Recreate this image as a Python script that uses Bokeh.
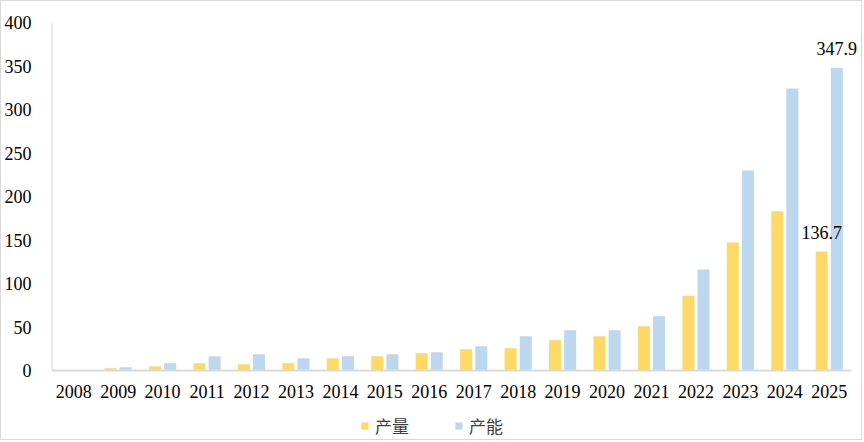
from bokeh.plotting import figure
from bokeh.models import ColumnDataSource, Legend, LegendItem, Range1d, FixedTicker, LabelSet
from bokeh.embed import file_html
from bokeh.resources import INLINE

years = [str(y) for y in range(2008, 2026)]
output = [0, 2.5, 5, 8.4, 7.2, 8.4, 14.1, 16.4, 19.9, 24.5, 25.6, 34.8, 39.4, 50.9, 86, 147, 183, 136.7]
capacity = [0, 3.8, 8.4, 16.4, 18.7, 14.1, 16.4, 18.7, 21, 27.9, 39.4, 46.3, 46.3, 62.4, 116, 230, 324, 347.9]
series_names = ["产量", "产能"]
y_ticks = [0, 50, 100, 150, 200, 250, 300, 350, 400]

n = len(years)
xc = [i + 0.5 for i in range(n)]
OFF = 0.17
src = ColumnDataSource(dict(year=years, xc=xc, zero=[0] * n,
                            xo=[x - OFF for x in xc], xp=[x + OFF for x in xc],
                            output=output, capacity=capacity))

PX_PER_UNIT = 348 / 400.0
p = figure(width=862, height=440, output_backend="svg", toolbar_location=None,
           x_axis_location=None,
           min_border_left=47, min_border_right=0, min_border_top=21, min_border_bottom=0)
p.styles = {"border": "1px solid #d9d9d9"}
p.x_range = Range1d(0, 18.27)
p.y_range = Range1d(400 - 419 / PX_PER_UNIT, 400)
p.outline_line_color = None
p.xgrid.grid_line_color = None
p.ygrid.grid_line_color = None

YEL = "#FFD966"
BLU = "#BDD7EE"
r1 = p.vbar(x="xo", top="output", width=0.27, source=src, fill_color=YEL, line_color=None)
r2 = p.vbar(x="xp", top="capacity", width=0.27, source=src, fill_color=BLU, line_color=None)

# axis lines
p.segment(x0=[0], y0=[0], x1=[n], y1=[0], line_color="#d9d9d9", line_width=2)
p.segment(x0=[0], y0=[0], x1=[0], y1=[400], line_color="#d9d9d9", line_width=2)

# category labels
xl = LabelSet(x="xc", y="zero", text="year", source=src, text_align="center",
              text_baseline="middle", y_offset=-21,
              text_font="Liberation Serif", text_font_size="18px", text_color="#000000")
p.add_layout(xl)

# data labels on the last year
last = ColumnDataSource(dict(xo=[xc[-1] - OFF], xp=[xc[-1] + OFF], output=[output[-1]],
                             capacity=[capacity[-1]],
                             ol=[f"{output[-1]:.1f}"], cl=[f"{capacity[-1]:.1f}"]))
for xcol, col, lab in (("xo", "output", "ol"), ("xp", "capacity", "cl")):
    ls = LabelSet(x=xcol, y=col, text=lab, source=last,
                  text_align="center", text_baseline="middle", y_offset=19,
                  text_font="Liberation Serif", text_font_size="18px", text_color="#000000")
    p.add_layout(ls)

ax = p.yaxis[0]
ax.major_label_text_font = "Liberation Serif"
ax.major_label_text_font_size = "18px"
ax.major_label_text_color = "#000000"
ax.major_tick_line_color = None
ax.minor_tick_line_color = None
ax.axis_line_color = None
ax.ticker = FixedTicker(ticks=y_ticks)
ax.major_label_standoff = 14

legend = Legend(items=[LegendItem(label=series_names[0], renderers=[r1]),
                       LegendItem(label=series_names[1], renderers=[r2])],
                orientation="horizontal", location=(309, 3),
                label_text_font="Noto Sans CJK SC", label_text_font_size="17px",
                label_text_color="#404040", glyph_width=9, glyph_height=9,
                spacing=45, label_standoff=6, border_line_color=None,
                background_fill_alpha=0, margin=0, padding=4)
p.add_layout(legend)

open("out.html", "w").write(file_html(p, INLINE))
